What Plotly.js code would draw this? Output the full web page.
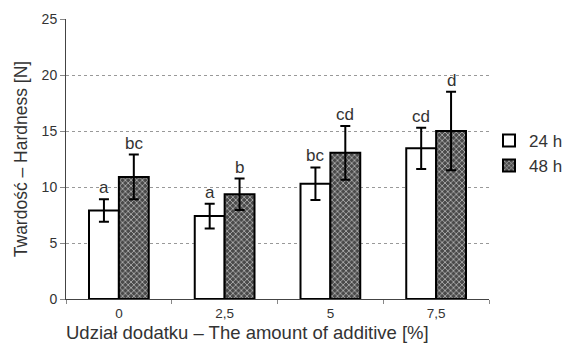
<!DOCTYPE html>
<html><head><meta charset="utf-8">
<script src="https://cdn.plot.ly/plotly-3.0.1.min.js"></script>
<style>html,body{margin:0;padding:0;background:#fff;}#chart{width:580px;height:343px;}</style>
</head><body><div id="chart"></div>
<script>
const categories = ['0', '2,5', '5', '7,5'];
const seriesNames = ['24 h', '48 h'];
const values24 = [7.9, 7.4, 10.3, 13.45];
const errors24 = [1.0, 1.1, 1.45, 1.85];
const values48 = [10.9, 9.35, 13.05, 15.0];
const errors48 = [2.0, 1.4, 2.4, 3.5];
const letters24 = ['a', 'a', 'bc', 'cd'];
const letters48 = ['bc', 'b', 'cd', 'd'];
const xTitle = 'Udział dodatku – The amount of additive [%]';
const yTitle = 'Twardość – Hardness [N]';

const font = 'Liberation Sans, Arial, sans-serif';
const txt = '#333';
const bargap = 0.435;
const barW = (1 - bargap) / 2;

const t24 = {
  type: 'bar', name: seriesNames[0], x: categories, y: values24,
  marker: {color: '#ffffff', line: {color: '#000', width: 2}},
  error_y: {type: 'data', array: errors24, visible: true, color: '#000', thickness: 2, width: 5}
};
const t48 = {
  type: 'bar', name: seriesNames[1], x: categories, y: values48,
  marker: {color: '#4a4a4a', line: {color: '#000', width: 2},
    pattern: {shape: 'x', fgcolor: '#d0d0d0', bgcolor: '#4a4a4a', size: 4, solidity: 0.3, fillmode: 'replace'}},
  error_y: {type: 'data', array: errors48, visible: true, color: '#000', thickness: 2, width: 5}
};

const annotations = [];
categories.forEach((c, i) => {
  annotations.push({x: i - barW / 2, y: values24[i] + errors24[i], xref: 'x', yref: 'y', text: letters24[i],
    showarrow: false, yanchor: 'bottom', yshift: 0, font: {family: font, size: 17, color: txt}});
  annotations.push({x: i + barW / 2, y: values48[i] + errors48[i], xref: 'x', yref: 'y', text: letters48[i],
    showarrow: false, yanchor: 'bottom', yshift: 0, font: {family: font, size: 17, color: txt}});
});
annotations.push({x: 0.428, y: -0.118, xref: 'paper', yref: 'paper', text: xTitle, showarrow: false,
  xanchor: 'center', yanchor: 'middle', font: {family: font, size: 18.5, color: txt}});

const layout = {
  width: 580, height: 343,
  margin: {l: 66, r: 89, t: 19, b: 44},
  paper_bgcolor: '#fff', plot_bgcolor: '#fff',
  barmode: 'group', bargap: bargap, bargroupgap: 0,
  font: {family: font, color: txt},
  showlegend: true,
  legend: {x: 1.0, y: 0.52, xanchor: 'left', yanchor: 'middle', font: {family: font, size: 17, color: txt},
    itemwidth: 30, tracegroupgap: 0, bgcolor: 'rgba(0,0,0,0)'},
  xaxis: {
    type: 'category', showline: true, linecolor: '#444', linewidth: 1,
    ticks: 'outside', tickson: 'boundaries', ticklen: 4, tickcolor: '#888',
    ticklabelstandoff: 2,
    tickfont: {family: font, size: 13.5, color: txt},
    showgrid: false, zeroline: false
  },
  yaxis: {
    range: [0, 25], dtick: 5, showline: true, linecolor: '#444', linewidth: 1,
    ticks: 'outside', ticklen: 5, tickcolor: '#888',
    tickfont: {family: font, size: 14, color: txt},
    showgrid: true, gridcolor: '#999', griddash: 'dot', gridwidth: 1, zeroline: false,
    title: {text: yTitle, font: {family: font, size: 17.5, color: txt}, standoff: 9}
  },
  annotations: annotations
};

Plotly.newPlot('chart', [t24, t48], layout, {displayModeBar: false, staticPlot: true});
</script></body></html>
